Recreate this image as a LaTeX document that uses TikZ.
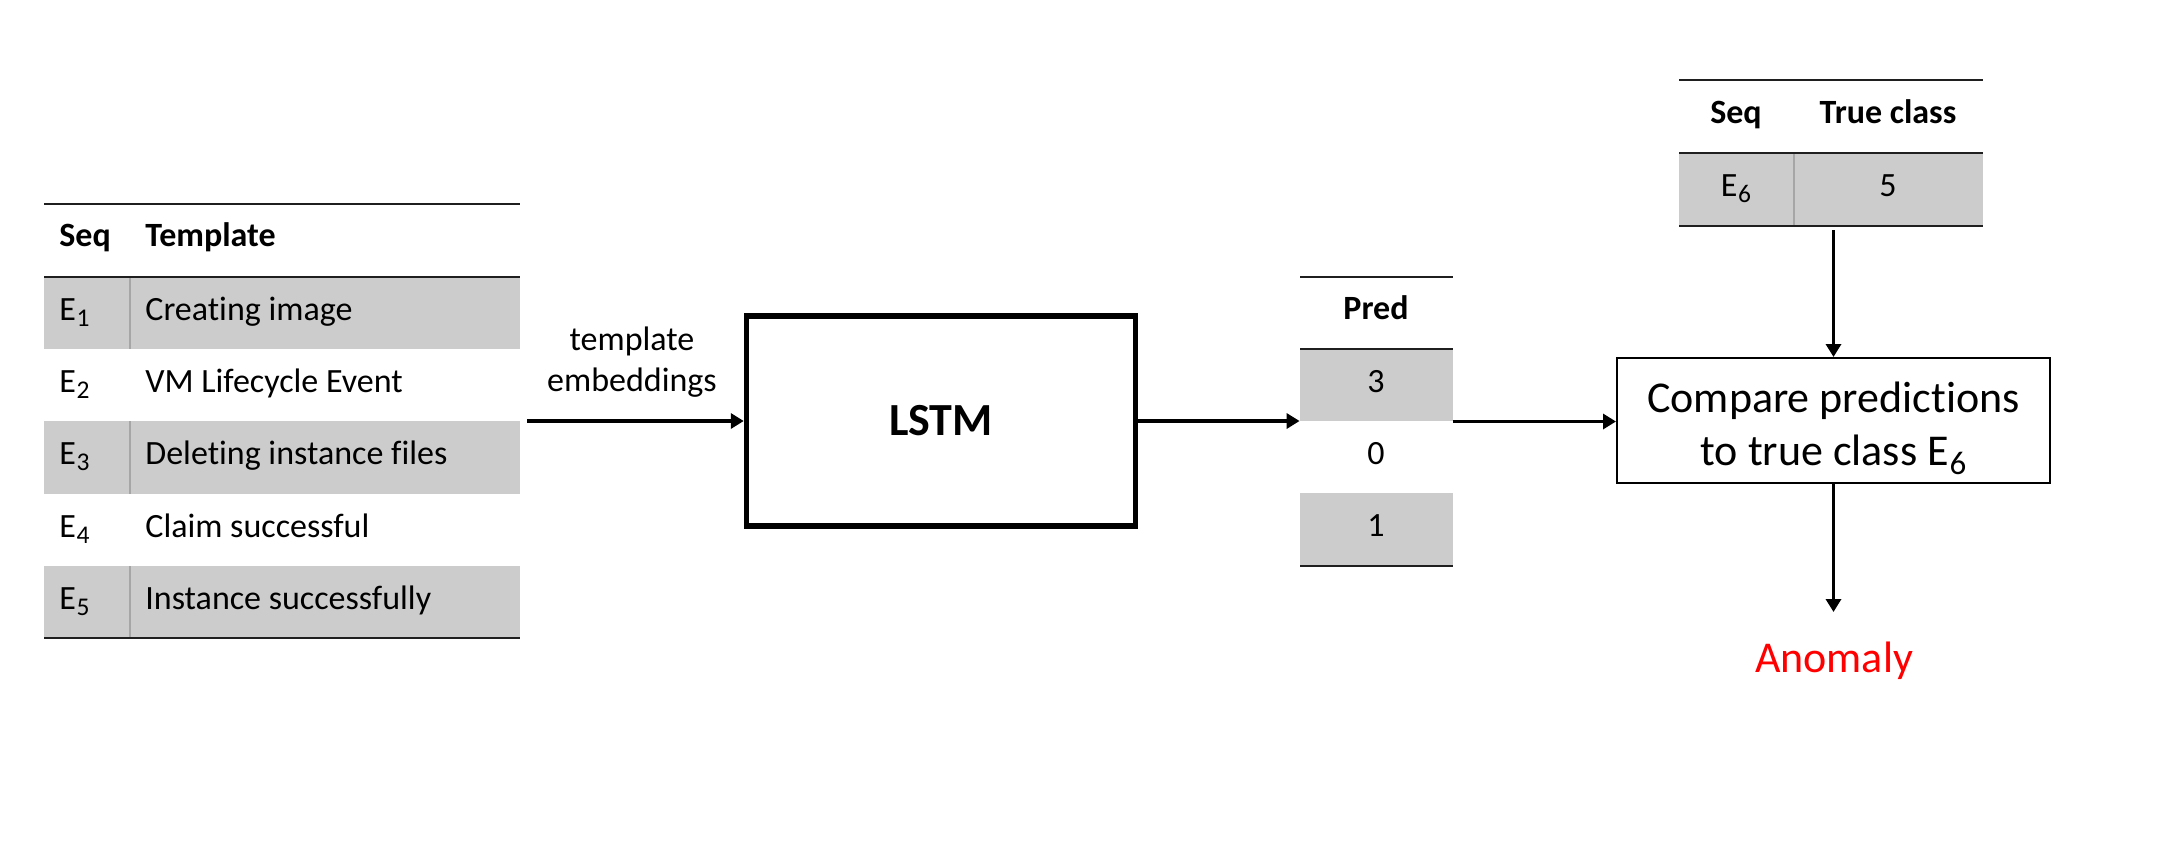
\documentclass[tikz,border=0pt]{standalone}
\usepackage{fontspec}
\setmainfont[Ligatures=NoCommon]{Carlito}
\usetikzlibrary{arrows.meta,fit}
\definecolor{rowgray}{RGB}{204,204,204}
\definecolor{anomred}{RGB}{255,0,0}
\newcommand\Esub[1]{E\kern0.02em\raisebox{-0.2em}{\scalebox{0.75}{#1}}}
\begin{document}
\begin{tikzpicture}[x=0.5pt,y=-0.5pt,
  rulel/.style={line width=1.3pt,draw=black!88},
  rowfill/.style={fill=rowgray},
  coldiv/.style={draw=black!35,line width=0.6pt},
  cell/.style={inner sep=0pt,font=\fontsize{17}{20}\selectfont},
  hcell/.style={inner sep=0pt,font=\fontsize{17}{20}\selectfont\bfseries},
  arr/.style={line width=1.7pt,-{Triangle[length=6.5pt,width=7.5pt]}},
  tabarea/.style={inner sep=0pt,draw=none}
]
\useasboundingbox (0,0) rectangle (2170,848);

% ---------- left table ----------
\fill[rowfill] (44,277) rectangle (520,349);
\fill[rowfill] (44,421) rectangle (520,494);
\fill[rowfill] (44,566) rectangle (520,638);
\draw[coldiv] (130,277) -- (130,349);
\draw[coldiv] (130,421) -- (130,494);
\draw[coldiv] (130,566) -- (130,638);
\draw[rulel] (44,204) -- (520,204);
\draw[rulel] (44,277) -- (520,277);
\draw[rulel] (44,638) -- (520,638);
\node[tabarea,fit={(44,204) (520,638)}] (lefttab) {};

\node[hcell,anchor=base west] (lh1) at (59,246) {Seq};
\node[hcell,anchor=base west] (lh2) at (145,246) {Template};
\node[cell,anchor=base west] (ls1) at (59,320) {\Esub{1}};
\node[cell,anchor=base west] (lt1) at (145,320) {Creating image};
\node[cell,anchor=base west] (ls2) at (59,392) {\Esub{2}};
\node[cell,anchor=base west] (lt2) at (145,392) {VM Lifecycle Event};
\node[cell,anchor=base west] (ls3) at (59,464) {\Esub{3}};
\node[cell,anchor=base west] (lt3) at (145,464) {Deleting instance files};
\node[cell,anchor=base west] (ls4) at (59,537) {\Esub{4}};
\node[cell,anchor=base west] (lt4) at (145,537) {Claim successful};
\node[cell,anchor=base west] (ls5) at (59,609) {\Esub{5}};
\node[cell,anchor=base west] (lt5) at (145,609) {Instance successfully};

% ---------- LSTM ----------
\node[draw,line width=2.7pt,minimum width=194.5pt,minimum height=105pt,
      font=\fontsize{23}{27}\selectfont\bfseries] (lstm) at (941,421) {\raisebox{-1.5pt}{LSTM}};
\node[inner sep=0pt,align=center,font=\fontsize{17}{20.5}\selectfont] (emb) at (632,362) {template\\embeddings};

% ---------- Pred table ----------
\fill[rowfill] (1300,349) rectangle (1453,421);
\fill[rowfill] (1300,493) rectangle (1453,566);
\draw[rulel] (1300,277) -- (1453,277);
\draw[rulel] (1300,349) -- (1453,349);
\draw[rulel] (1300,566) -- (1453,566);
\node[tabarea,fit={(1300,277) (1453,566)}] (predtab) {};
\node[hcell,anchor=base] (ph) at (1376,319) {Pred};
\node[cell,anchor=base] (p1) at (1376,392) {3};
\node[cell,anchor=base] (p2) at (1376,464) {0};
\node[cell,anchor=base] (p3) at (1376,536) {1};

% ---------- True class table ----------
\fill[rowfill] (1679,153) rectangle (1983,226);
\draw[coldiv] (1794,153) -- (1794,226);
\draw[rulel] (1679,80) -- (1983,80);
\draw[rulel] (1679,153) -- (1983,153);
\draw[rulel] (1679,226) -- (1983,226);
\node[tabarea,fit={(1679,80) (1983,226)}] (truetab) {};
\node[hcell,anchor=base] (th1) at (1736,123) {Seq};
\node[hcell,anchor=base] (th2) at (1888,123) {True class};
\node[cell,anchor=base] (ts) at (1736,196) {\Esub{6}};
\node[cell,anchor=base] (tv) at (1888,196) {5};

% ---------- Compare box & anomaly ----------
\node[draw,line width=1pt,minimum width=216.5pt,minimum height=62.5pt,align=center,
      font=\fontsize{22}{26.5}\selectfont] (cmp) at (1833.5,420.5) {\rule{0pt}{23.5pt}Compare predictions\\to true class \Esub{6}};
\node[inner sep=0pt,anchor=base,text=anomred,font=\fontsize{22}{26}\selectfont] (anom) at (1834,672) {Anomaly};
\coordinate (anomtip) at (1833,612);

% ---------- connectors ----------
\coordinate (embstart) at ([xshift=3.5pt]lefttab.east |- lstm.west);
\draw[arr] (embstart) -- (lstm.west);
\draw[arr] (lstm.east) -- (lstm.east -| predtab.west);
\draw[arr] (predtab.east) -- (predtab.east -| cmp.west);
\coordinate (truestart) at ([yshift=-2pt]truetab.south -| cmp.north);
\draw[arr] (truestart) -- (cmp.north);
\draw[arr] (cmp.south) -- (cmp.south |- anomtip);
\end{tikzpicture}
\end{document}
